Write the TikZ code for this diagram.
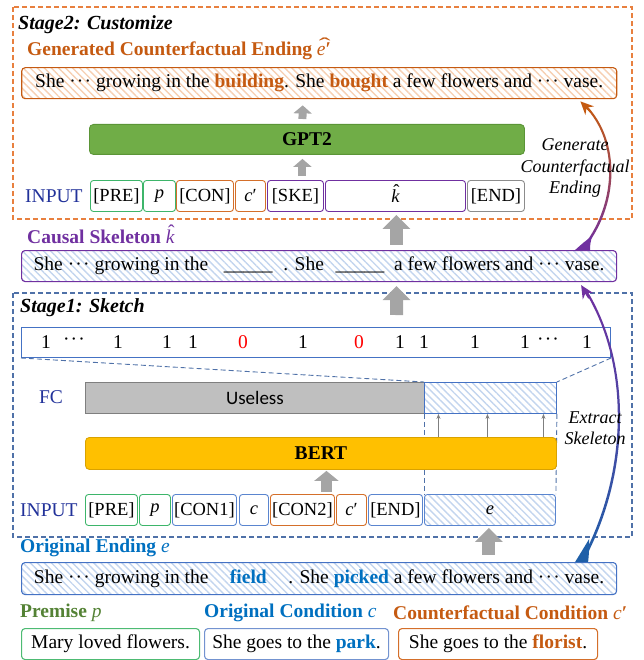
\RequirePackage{fix-cm}
\documentclass[tikz,border=0pt]{standalone}
\usepackage{fontspec}
\setmainfont{Liberation Serif}
\newfontfamily\uselessfont{Carlito}
\usepackage{graphicx}
\usepackage{tikz}
\usetikzlibrary{arrows.meta,calc,patterns.meta}
\newcommand\mvar[1]{{\mdseries\itshape #1}}
\newcommand\threedots{·\kern1.2pt·\kern1.2pt·}
\newcommand\hatk{\ooalign{\mvar{k}\cr\hidewidth\kern0.12em\raisebox{0.24em}{\mdseries ˆ}\hidewidth\cr}}
\newcommand\hatep{\ooalign{\mvar{e}′\cr\hidewidth\kern0.08em\raisebox{0.2em}{\mdseries\scalebox{1.8}[1]{ˆ}}\hidewidth\cr}}
\definecolor{corange}{HTML}{C55A11}
\definecolor{cpurple}{HTML}{7030A0}
\definecolor{ctitleblue}{HTML}{0070C0}
\definecolor{boxblue}{HTML}{4472C4}
\definecolor{dashblue}{HTML}{4F71A8}
\definecolor{dashorange}{HTML}{E8803F}
\definecolor{navy}{HTML}{22329A}
\definecolor{cgreen}{HTML}{548235}
\definecolor{tokgreen}{HTML}{3DB56A}
\definecolor{premgreen}{HTML}{4DBB73}
\definecolor{tokorange}{HTML}{D46F2A}
\definecolor{tokblue}{HTML}{5A85CF}
\definecolor{condblue}{HTML}{7393D0}
\definecolor{tokgray}{HTML}{8C8C8C}
\definecolor{gptgreen}{HTML}{70AD47}
\definecolor{gptedge}{HTML}{5B9537}
\definecolor{bertyellow}{HTML}{FFC000}
\definecolor{bertedge}{HTML}{D9A200}
\definecolor{uselessgray}{HTML}{BFBFBF}
\definecolor{uselessedge}{HTML}{7F7F7F}
\definecolor{arrowgray}{HTML}{A5A5A5}
\definecolor{hatchblue}{HTML}{C3D5EE}
\definecolor{hatchorange}{HTML}{F6CFB2}
\definecolor{cendblue}{HTML}{1F5FA8}

\begin{document}
\begin{tikzpicture}[x=1pt, y=-1pt,
  font=\fontsize{19.5}{23}\selectfont,
  sbox/.style={draw, rounded corners=3.5pt, line width=1.1pt, inner sep=0pt, anchor=north west, minimum height=31pt},
  tok/.style={draw, rounded corners=3pt, line width=0.9pt, inner sep=0pt, minimum height=31pt, anchor=west, font=\fontsize{18.5}{22}\selectfont},
  hatchB/.style={pattern={Lines[angle=-45,distance=5pt,line width=1.4pt]}, pattern color=hatchblue},
  hatchO/.style={pattern={Lines[angle=-45,distance=5pt,line width=1.4pt]}, pattern color=hatchorange},
  lbl/.style={anchor=west, inner sep=0pt, font=\fontsize{19.5}{23}\selectfont\bfseries},
  stage/.style={anchor=west, inner sep=0pt, font=\fontsize{20}{24}\selectfont\bfseries\itshape},
  fatarr/.style={draw=arrowgray, line width=13pt, -{Triangle[length=14pt,width=27pt]}},
  midarr/.style={draw=arrowgray, line width=11pt, -{Triangle[length=10pt,width=24pt]}},
  slimarr/.style={draw=arrowgray, line width=8pt, -{Triangle[length=8pt,width=18pt]}},
  thinarr/.style={draw=uselessedge, line width=0.8pt, -{Stealth[length=5pt,width=4pt]}},
  bdash/.style={draw=dashblue, line width=0.9pt, dash pattern=on 5pt off 3pt},
  sidetxt/.style={font=\fontsize{18}{21.5}\selectfont\itshape, align=center, inner sep=0pt}
]
  \useasboundingbox (0,0) rectangle (643,660);

  % Stage frames
  \draw[dashorange, line width=1.1pt, dash pattern=on 5pt off 3pt] (13,7) rectangle (632,219);
  \draw[dashblue, line width=1.1pt, dash pattern=on 5pt off 3pt] (13,293) rectangle (632,537);

  % Stage 2
  \node[stage] (st2) at (18,25) {Stage2: Customize};
  \node[lbl, text=corange] (genlbl) at (27,51) {Generated Counterfactual Ending \hatep};
  \node[sbox, hatchO, draw=corange, minimum width=595pt] (gen) at (21,67)
    {She \threedots{} growing in the \textcolor{corange}{\textbf{building}}. She \textcolor{corange}{\textbf{bought}} a few flowers and \threedots{} vase.};
  \node[draw=gptedge, fill=gptgreen, rounded corners=4pt, line width=0.9pt, minimum width=435pt, minimum height=30pt,
        anchor=north west, font=\fontsize{19.5}{23}\selectfont\bfseries] (gpt) at (89,124) {GPT2};

  \node[text=navy, anchor=west, inner sep=0pt] (in2) at (25,196) {INPUT};
  \foreach \nm/\xl/\w/\col/\txt in {pre2/90/52/tokgreen/{[PRE]}, p2/143/32/tokgreen/{\mvar{p}},
      con2/176/57/tokorange/{[CON]}, cp2/235/30/tokorange/{\mvar{c}′}, ske2/267/56/cpurple/{[SKE]},
      k2/325/140/cpurple/{\hatk}, end2/467/57/tokgray/{[END]}}
    \node[tok, draw=\col, minimum width=\w pt] (\nm) at (\xl,196) {\txt};

  \draw[slimarr] ($(ske2.north)+(7,-4)$) -- ($(gpt.south)+(-4.5,4)$);
  \draw[slimarr] ($(gpt.north)+(-4.5,-5)$) -- ($(gen.south)+(-16.5,6)$);

  % Causal skeleton
  \node[lbl, text=cpurple] (sklbl) at (27,237) {Causal Skeleton \hatk};
  \node[sbox, hatchB, draw=cpurple, minimum width=595pt] (skel) at (21,250)
    {She \threedots{} growing in the\hspace{0.8em}\_\_\_\_\_\hspace{0.55em}. She\hspace{0.6em}\_\_\_\_\_\hspace{0.5em}a few flowers and \threedots{} vase.};
  \draw[fatarr] ($(k2.south)+(1,33)$) -- ($(k2.south)+(1,3)$);

  % Stage 1
  \node[stage] (st1) at (20,308) {Stage1: Sketch};
  \node[draw=boxblue, line width=1pt, minimum width=589pt, minimum height=30pt, anchor=north west, inner sep=0pt] (mask) at (21,327) {};
  \foreach \x/\v/\c in {46/1/black, 74/{\threedots}/black, 118/1/black, 167/1/black, 193/1/black, 243/0/red,
      303/1/black, 359/0/red, 400/1/black, 424/1/black, 475/1/black, 525/1/black, 548/{\threedots}/black, 587/1/black}
    \node[text=\c, inner sep=0pt] (m\x) at (\x,342) {\v};
  \draw[fatarr] ($(mask.north)+(80.5,-12)$) -- ($(skel.south)+(77.5,4)$);

  \node[text=navy, inner sep=0pt] (fc) at (51,397) {FC};
  \node[draw=uselessedge, fill=uselessgray, line width=0.9pt, minimum width=339pt, minimum height=31pt, anchor=north west,
        inner sep=0pt, font=\uselessfont\fontsize{19}{23}\selectfont] (useless) at (85,382) {Useless};
  \node[draw=boxblue, hatchB, line width=0.9pt, minimum width=132pt, minimum height=31pt, anchor=north west, inner sep=0pt] (hatch) at (424,382) {};
  \draw[bdash] (mask.south west) -- (hatch.north west);
  \draw[bdash] (mask.south east) -- (hatch.north east);

  \node[text=navy, anchor=west, inner sep=0pt] (in1) at (20,510) {INPUT};
  \foreach \nm/\xl/\w/\col/\txt in {pre1/85/52/tokgreen/{[PRE]}, p1/139/31/tokgreen/{\mvar{p}},
      con1/172/64/tokblue/{[CON1]}, c1/239/29/tokblue/{\mvar{c}}, cf1/270/64/tokorange/{[CON2]},
      cp1/336/30/tokorange/{\mvar{c}′}, end1/368/54/tokblue/{[END]}}
    \node[tok, draw=\col, minimum width=\w pt] (\nm) at (\xl,510) {\txt};
  \node[tok, hatchB, draw=tokblue, minimum width=131pt] (e1) at (424,510) {\mvar{e}};

  \draw[bdash] (hatch.south west) -- (e1.north west);
  \draw[bdash] (hatch.south east) -- (e1.north east);
  \foreach \dx in {-52,-3,53}
    \draw[thinarr] ($(hatch.south)+(\dx,24)$) -- ($(hatch.south)+(\dx,0)$);

  \node[draw=bertedge, fill=bertyellow, rounded corners=4pt, line width=0.9pt, minimum width=471pt, minimum height=32pt,
        anchor=north west, font=\fontsize{19.5}{23}\selectfont\bfseries] (bert) at (85,437) {BERT};
  \draw[midarr] ($(cf1.north)+(24,-2)$) -- ($(bert.south)+(5.5,1)$);

  % Inputs
  \node[lbl, text=ctitleblue] (endlbl) at (20,548) {Original Ending \mvar{e}};
  \node[sbox, hatchB, draw=boxblue, minimum height=32pt, minimum width=595pt] (ending) at (21,562)
    {She \threedots{} growing in the\hspace{1.1em}\textcolor{ctitleblue}{\textbf{field}}\hspace{1.1em}. She \textcolor{ctitleblue}{\textbf{picked}} a few flowers and \threedots{} vase.};
  \draw[fatarr] ($(e1.south)+(-1,29)$) -- ($(e1.south)+(-1,2)$);

  \node[lbl, text=cgreen] (prelbl) at (20,613) {Premise \mvar{p}};
  \node[lbl, text=ctitleblue] (oclbl) at (204,613) {Original Condition \mvar{c}};
  \node[lbl, text=corange] (cclbl) at (393,613) {Counterfactual Condition \mvar{c}′};
  \node[sbox, draw=premgreen, minimum width=178pt] (prem) at (21,628) {Mary loved flowers.};
  \node[sbox, draw=condblue, minimum width=184pt] (ocond) at (204,628) {She goes to the \textcolor{ctitleblue}{\textbf{park}}.};
  \node[sbox, draw=tokorange, minimum width=199pt] (ccond) at (398,628) {She goes to the \textcolor{corange}{\textbf{florist}}.};

  % Curved arrows
  \coordinate (extS) at ([xshift=-39pt]ending.north east);
  \coordinate (extE) at ([xshift=-36pt,yshift=-3pt]skel.south east);
  \shade[top color=cpurple, bottom color=cendblue]
    ($(extS)+(2,0)$) .. controls ($(extS)+(50,-87)$) and ($(extS)+(53,-197)$) .. ($(extS)+(6,-272)$)
    -- ($(extS)+(8,-273)$) .. controls ($(extS)+(55,-197)$) and ($(extS)+(52.5,-87)$) .. ($(extS)+(5,0)$) -- cycle;
  \fill[cendblue] ($(extS)+(-3,0)$) .. controls ($(extS)+(5,-13)$) .. ($(extS)+(11,-23)$)
    .. controls ($(extS)+(11,-10)$) .. ($(extS)+(10,0)$) -- cycle;
  \draw[cpurple, line width=2pt, -{Stealth[length=13pt,width=12pt]}] ($(extE)+(8,13)$) -- (extE);
  \node[sidetxt] (exttxt) at (595,428) {Extract\\Skeleton};

  \coordinate (genS) at ([xshift=-39pt]skel.north east);
  \coordinate (genE) at ([xshift=-37pt,yshift=-2pt]gen.south east);
  \shade[top color=corange, bottom color=cpurple]
    ($(genS)+(2,0)$) .. controls ($(genS)+(39,-44)$) and ($(genS)+(41,-109)$) .. ($(genS)+(6,-144)$)
    -- ($(genS)+(8,-145)$) .. controls ($(genS)+(43,-109)$) and ($(genS)+(41.5,-44)$) .. ($(genS)+(5,0)$) -- cycle;
  \fill[cpurple] ($(genS)+(-3,0)$) .. controls ($(genS)+(6,-8)$) .. ($(genS)+(14,-14)$)
    .. controls ($(genS)+(12,-6)$) .. ($(genS)+(12,0)$) -- cycle;
  \draw[corange, line width=2pt, -{Stealth[length=13pt,width=12pt]}] ($(genE)+(10,10)$) -- (genE);
  \node[sidetxt] (gentxt) at (575,168) {Generate\\Counterfactual\\Ending};
\end{tikzpicture}
\end{document}
